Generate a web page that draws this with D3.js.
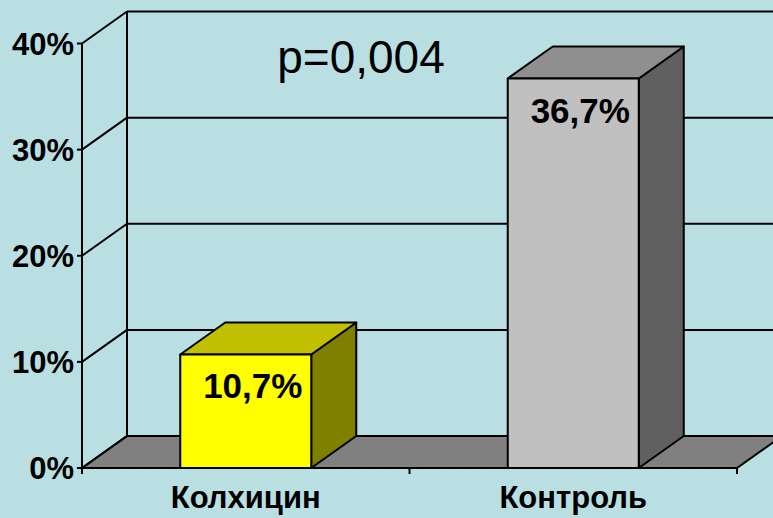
<!doctype html>
<meta charset="utf-8">
<script src="https://d3js.org/d3.v7.min.js"></script>
<style>
  body { margin:0; background:#b9dfe3; }
  text { font-family: "Liberation Sans", Arial, sans-serif; fill:#000; }
</style>
<body>
</body>
<script>
//*****************
// data
var categories = ["Колхицин", "Контроль"];
var values = [0.107, 0.367];
var valueLabels = ["10,7%", "36,7%"];
var yTicks = [0, 0.1, 0.2, 0.3, 0.4];
var pLabel = "p=0,004";
// face colours: front, top, side
var barColors = [["#ffff00", "#c0c000", "#808000"], ["#c0c0c0", "#8f8f8f", "#606060"]];
//*****************

var width = 773, height = 518;
var dx = 45, dy = 32;   // depth offset
var wallRight = 800;

var svg = d3.select("body").append("svg")
    .attr("width", width).attr("height", height);

var x = d3.scaleBand().domain(categories)
    .range([82, 737]).paddingInner(0.6).paddingOuter(0.3);
var y = d3.scaleLinear().domain([0, 0.4]).range([468, 43.5]);

var x0 = x.range()[0], x1 = x.range()[1];
var yb = y(0);

function pts(a) { return a.map(function(p){ return p.join(","); }).join(" "); }

// floor
svg.append("polygon")
    .attr("points", pts([[x0, yb], [x1, yb], [x1 + dx, yb - dy], [x0 + dx, yb - dy]]))
    .attr("fill", "#808080").attr("stroke", "#000").attr("stroke-width", 2);

// back wall gridlines + left wall diagonals
var grid = svg.append("g").attr("stroke", "#000").attr("stroke-width", 2);
yTicks.forEach(function(t) {
  if (t > 0) {
    grid.append("line")
        .attr("x1", x0 + dx).attr("x2", wallRight)
        .attr("y1", y(t) - dy).attr("y2", y(t) - dy);
  }
  grid.append("line")
      .attr("x1", x0).attr("y1", y(t))
      .attr("x2", x0 + dx).attr("y2", y(t) - dy);
  grid.append("line")
      .attr("x1", x0 - 5).attr("x2", x0)
      .attr("y1", y(t)).attr("y2", y(t));
});
grid.append("line")
    .attr("x1", x0 + dx).attr("x2", x0 + dx)
    .attr("y1", y(0.4) - dy).attr("y2", yb - dy);
grid.append("line")
    .attr("x1", x0).attr("x2", x0)
    .attr("y1", y(0.4)).attr("y2", yb);
grid.append("line")
    .attr("x1", x0).attr("x2", x1)
    .attr("y1", yb).attr("y2", yb);
// category ticks
var catTicks = [x0].concat(categories.map(function(c){ return x(c) + x.bandwidth() + x.step() * x.paddingInner() / 2; }));
catTicks[catTicks.length - 1] = x1;
catTicks.forEach(function(t) {
  grid.append("line").attr("x1", t).attr("x2", t)
      .attr("y1", yb).attr("y2", yb + 6);
});

// y labels
svg.append("g").selectAll("text").data(yTicks).enter().append("text")
    .attr("x", x0 - 8).attr("y", function(d){ return y(d) + 11; })
    .attr("text-anchor", "end")
    .style("font-size", "31px").style("font-weight", "bold")
    .text(function(d){ return Math.round(d * 100) + "%"; });

// bars
var bars = svg.append("g").selectAll("g").data(values).enter().append("g")
    .attr("stroke", "#000").attr("stroke-width", 2).attr("stroke-linejoin", "round");
bars.append("polygon")
    .attr("fill", function(d, i){ return barColors[i][2]; })
    .attr("points", function(d, i) {
      var r = x(categories[i]) + x.bandwidth(), t = y(d);
      return pts([[r, t], [r + dx, t - dy], [r + dx, yb - dy], [r, yb]]);
    });
bars.append("polygon")
    .attr("fill", function(d, i){ return barColors[i][1]; })
    .attr("points", function(d, i) {
      var l = x(categories[i]), r = l + x.bandwidth(), t = y(d);
      return pts([[l, t], [l + dx, t - dy], [r + dx, t - dy], [r, t]]);
    });
bars.append("rect")
    .attr("fill", function(d, i){ return barColors[i][0]; })
    .attr("x", function(d, i){ return x(categories[i]); })
    .attr("y", function(d){ return y(d); })
    .attr("width", x.bandwidth())
    .attr("height", function(d){ return yb - y(d); });

// value labels
svg.append("g").selectAll("text").data(values).enter().append("text")
    .attr("x", function(d, i){ return x(categories[i]) + x.bandwidth() / 2 + 7; })
    .attr("y", function(d){ return y(d) + 44; })
    .attr("text-anchor", "middle")
    .style("font-size", "35px").style("font-weight", "bold")
    .text(function(d, i){ return valueLabels[i]; });

// category labels
svg.append("g").selectAll("text").data(categories).enter().append("text")
    .attr("x", function(d){ return x(d) + x.bandwidth() / 2; })
    .attr("y", 508)
    .attr("text-anchor", "middle")
    .style("font-size", "31px").style("font-weight", "bold")
    .text(function(d){ return d; });

svg.append("text")
    .attr("x", 361).attr("y", 73)
    .attr("text-anchor", "middle")
    .style("font-size", "46px")
    .text(pLabel);
</script>
